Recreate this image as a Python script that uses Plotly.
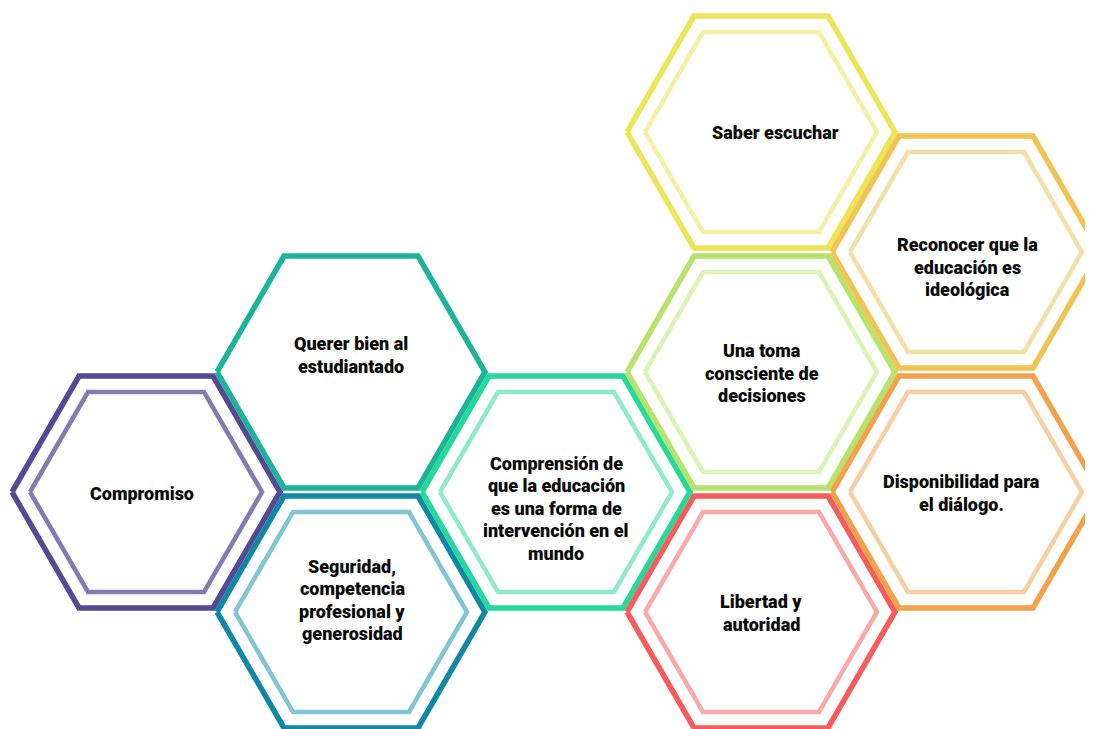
import plotly.graph_objects as go

# ---- data ----
labels = [
    ["Compromiso"],
    ["Querer bien al", "estudiantado"],
    ["Seguridad,", "competencia", "profesional y", "generosidad"],
    ["Comprensión de", "que la educación", "es una forma de", "intervención en el", "mundo"],
    ["Saber escuchar"],
    ["Una toma", "consciente de", "decisiones"],
    ["Libertad y", "autoridad"],
    ["Reconocer que la", "educación es", "ideológica"],
    ["Disponibilidad para", "el diálogo."],
]
grid_col = [0, 1, 1, 2, 3, 3, 3, 4, 4]
grid_row = [3, 2, 4, 3, 0, 2, 4, 1, 3]
has_inner = [True, False, True, True, True, True, True, True, True]

# ---- style ----
outer_colors = ["#544A93", "#1BB49B", "#0F88A6", "#24D99A", "#EDE557",
                "#B6E36B", "#F75C5C", "#F1C352", "#F2A24B"]
inner_colors = ["#837AB2", None, "#80C5D6", "#8FEAC9", "#F3F0A6",
                "#DDF3B6", "#FAA9A9", "#F6DFA6", "#F6CFA3"]
text_offset = [(-4, 1), (0, -17), (1, -12), (0, 16), (14, 0),
               (1, 1), (0, 1), (1, 15), (-5, 1)]

PAGE_PAD = 8                       # default body margin of the html page
W, H = 1093 - PAGE_PAD, 729 - PAGE_PAD
X0, DX = 146 - PAGE_PAD, 205       # px of column 0 (figure coords), px per column
Y0, DY = 132 - PAGE_PAD, 120       # px of row 0 (figure coords), px per row
R_OUT, H_OUT = 134, 116
R_IN, H_IN = 116, 100
LINE_H = 22.5

def hex_path(cx, cy, r, h):
    rx = r / DX
    hy = h / DY
    xs = [cx - rx, cx - rx / 2, cx + rx / 2, cx + rx, cx + rx / 2, cx - rx / 2, cx - rx]
    ys = [cy, cy - hy, cy - hy, cy, cy + hy, cy + hy, cy]
    return xs, ys

fig = go.Figure()
annotations = []
for i in range(len(labels)):
    cx, cy = grid_col[i], grid_row[i]
    xs, ys = hex_path(cx, cy, R_OUT, H_OUT)
    fig.add_trace(go.Scatter(x=xs, y=ys, mode="lines",
                             line=dict(color=outer_colors[i], width=5.5),
                             hoverinfo="skip", showlegend=False))
    if has_inner[i]:
        xs, ys = hex_path(cx, cy, R_IN, H_IN)
        fig.add_trace(go.Scatter(x=xs, y=ys, mode="lines",
                                 line=dict(color=inner_colors[i], width=4.5),
                                 hoverinfo="skip", showlegend=False))
    n = len(labels[i])
    ox, oy = text_offset[i]
    for k, line in enumerate(labels[i]):
        dy_px = oy + (k - (n - 1) / 2) * LINE_H
        annotations.append(dict(
            x=cx + ox / DX, y=cy + dy_px / DY, text=line,
            showarrow=False, xanchor="center", yanchor="middle",
            font=dict(family="Roboto", size=18, weight=900, color="#0A0A0A")))

fig.update_layout(
    width=W, height=H,
    margin=dict(l=0, r=0, t=0, b=0),
    paper_bgcolor="white", plot_bgcolor="white",
    xaxis=dict(range=[-X0 / DX, (W - X0) / DX], visible=False, fixedrange=True),
    yaxis=dict(range=[(H - Y0) / DY, -Y0 / DY], visible=False, fixedrange=True),
    annotations=annotations,
    showlegend=False,
)
fig.write_html("out.html")
